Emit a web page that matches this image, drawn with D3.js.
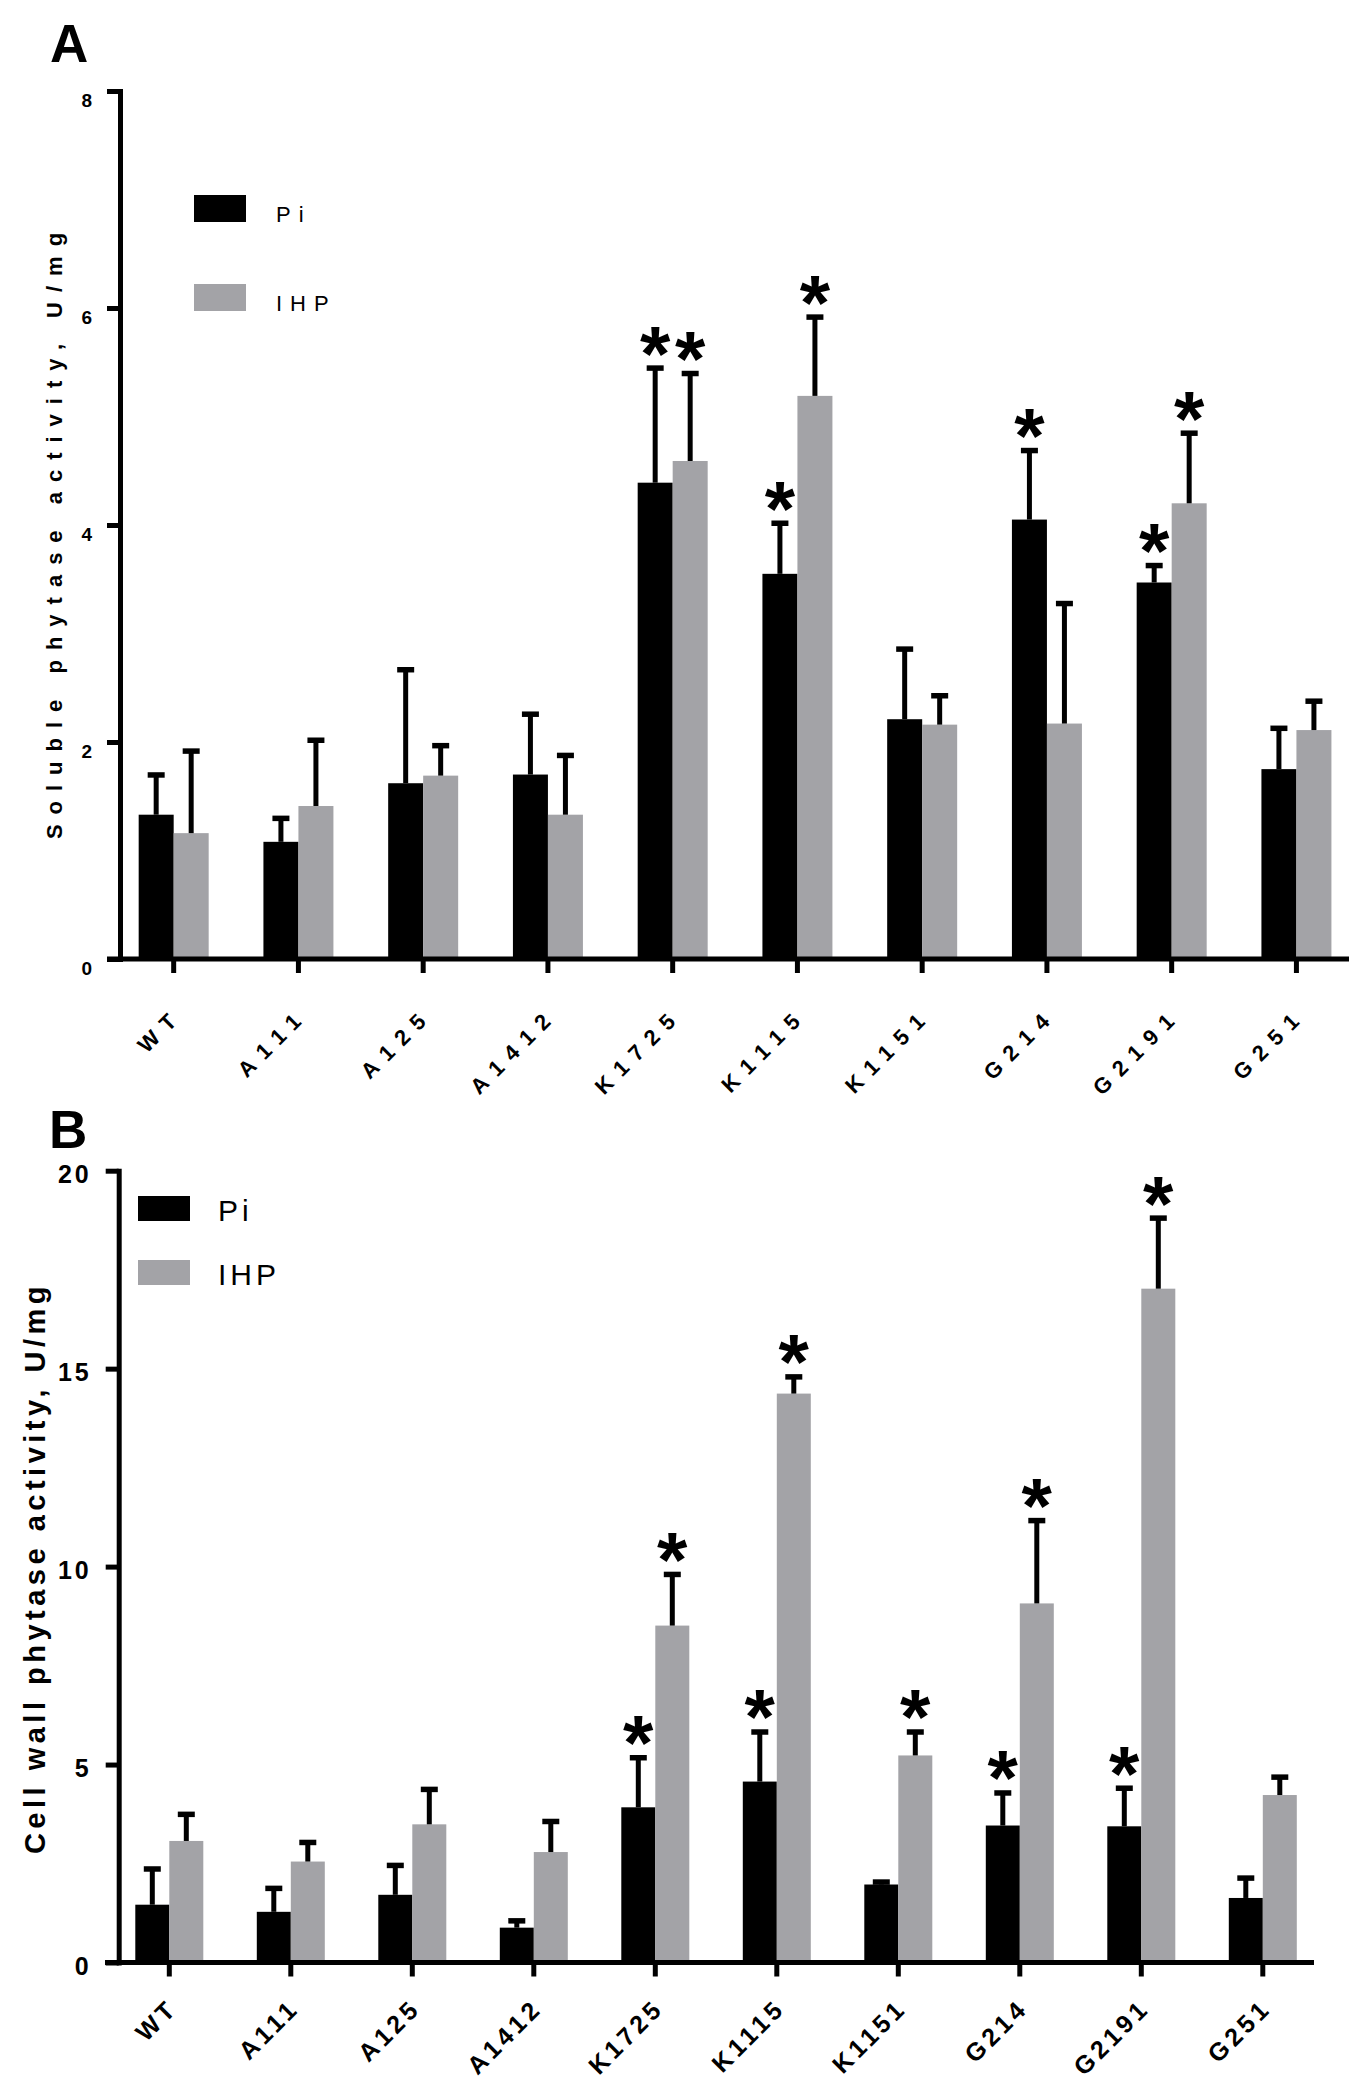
<!DOCTYPE html>
<html>
<head>
<meta charset="utf-8">
<script src="https://cdn.jsdelivr.net/npm/d3@7"></script>
<style>
body { margin: 0; background: #fff; }
svg { display: block; font-family: "Liberation Sans", Arial, sans-serif; }
</style>
</head>
<body>
<div id="chart-area"></div>
<script>
// lines along the x axis
const categories = ["WT", "A111", "A125", "A1412", "K1725", "K1115", "K1151", "G214", "G2191", "G251"];
const seriesNames = ["Pi", "IHP"];

// A: soluble phytase activity, U/mg (mean and SD)
const solublePi = [1.33, 1.08, 1.62, 1.70, 4.39, 3.55, 2.21, 4.05, 3.47, 1.75];
const solublePiSd = [0.38, 0.23, 1.06, 0.57, 1.07, 0.48, 0.66, 0.65, 0.17, 0.39];
const solubleIHP = [1.16, 1.41, 1.69, 1.33, 4.59, 5.19, 2.16, 2.17, 4.20, 2.11];
const solubleIHPSd = [0.77, 0.62, 0.29, 0.56, 0.82, 0.74, 0.28, 1.12, 0.66, 0.28];
const solublePiStars = ["K1725", "K1115", "G214", "G2191"];
const solubleIHPStars = ["K1725", "K1115", "G2191"];
const solubleTicks = [0, 2, 4, 6, 8];

// B: cell wall phytase activity, U/mg
const wallPi = [1.46, 1.28, 1.71, 0.88, 3.92, 4.57, 1.97, 3.46, 3.44, 1.63];
const wallPiSd = [0.94, 0.63, 0.78, 0.21, 1.29, 1.29, 0.10, 0.86, 1.00, 0.54];
const wallIHP = [3.07, 2.55, 3.49, 2.79, 8.51, 14.37, 5.23, 9.07, 17.02, 4.23];
const wallIHPSd = [0.71, 0.52, 0.92, 0.81, 1.33, 0.46, 0.63, 2.13, 1.82, 0.49];
const wallPiStars = ["K1725", "K1115", "G214", "G2191"];
const wallIHPStars = ["K1725", "K1115", "K1151", "G214", "G2191"];
const wallTicks = [0, 5, 10, 15, 20];

const colors = d3.scaleOrdinal().domain(seriesNames).range(["#000000", "#a3a3a7"]);

const svg = d3.select("#chart-area").append("svg")
	.attr("width", 1368)
	.attr("height", 2093);

svg.append("rect").attr("width", 1368).attr("height", 2093).attr("fill", "#fff");

const drawPanel = p => {
	const g = svg.append("g");

	const x = d3.scaleBand()
		.domain(categories)
		.range(p.xRange);
	const sub = d3.scaleBand()
		.domain(seriesNames)
		.range([-p.barWidth, p.barWidth]);
	const y = d3.scaleLinear()
		.domain([0, d3.max(p.ticks)])
		.range(p.yRange);

	const rows = categories.map((c, i) => seriesNames.map((s, j) => ({
		cat: c,
		series: s,
		value: j === 0 ? p.pi[i] : p.ihp[i],
		sd: j === 0 ? p.piSd[i] : p.ihpSd[i],
		star: (j === 0 ? p.piStars : p.ihpStars).includes(c)
	}))).flat();
	const cx = d => x(d.cat) + x.bandwidth() / 2 + sub(d.series) + sub.bandwidth() / 2;

	// bars
	g.selectAll("rect.bar")
		.data(rows)
		.enter().append("rect")
		.attr("class", "bar")
		.attr("x", d => x(d.cat) + x.bandwidth() / 2 + sub(d.series))
		.attr("width", sub.bandwidth())
		.attr("y", d => y(d.value))
		.attr("height", d => y(0) - y(d.value))
		.attr("fill", d => colors(d.series));

	// error bars (upper only)
	g.selectAll("line.err")
		.data(rows)
		.enter().append("line")
		.attr("class", "err")
		.attr("x1", cx).attr("x2", cx)
		.attr("y1", d => y(d.value))
		.attr("y2", d => y(d.value + d.sd))
		.attr("stroke", "#000")
		.attr("stroke-width", 5);
	g.selectAll("line.cap")
		.data(rows)
		.enter().append("line")
		.attr("class", "cap")
		.attr("x1", d => cx(d) - 8.5).attr("x2", d => cx(d) + 8.5)
		.attr("y1", d => y(d.value + d.sd) + 1.5)
		.attr("y2", d => y(d.value + d.sd) + 1.5)
		.attr("stroke", "#000")
		.attr("stroke-width", 5.5);

	g.selectAll("text.star")
		.data(rows.filter(d => d.star))
		.enter().append("text")
		.attr("class", "star")
		.attr("x", cx)
		.attr("y", d => y(d.value + d.sd) - 1.5 - 22 + 0.48 * p.starSize)
		.attr("text-anchor", "middle")
		.attr("font-size", p.starSize + "px")
		.attr("font-weight", "bold")
		.text("*");

	// y axis
	const yAxis = g.append("g")
		.attr("transform", `translate(${p.axisX},0)`)
		.call(d3.axisLeft(y).tickValues(p.ticks).tickSize(13).tickSizeOuter(0).tickPadding(p.tickPad));
	yAxis.select(".domain").attr("stroke-width", 5).attr("stroke-linecap", "square");
	yAxis.selectAll(".tick line").attr("stroke-width", 5);
	yAxis.selectAll(".tick text")
		.attr("dy", 0)
		.attr("y", p.tickLabelDy)
		.attr("font-size", p.tickFont + "px")
		.attr("font-weight", "bold")
		.attr("letter-spacing", p.tickSpacing + "px")
		.attr("fill", "#000")
		.attr("font-family", "Liberation Sans, Arial, sans-serif");

	// x axis
	const xAxis = g.append("g")
		.attr("transform", `translate(0,${y(0)})`)
		.call(d3.axisBottom(x).tickSize(14).tickSizeOuter(0));
	xAxis.select(".domain")
		.attr("d", `M${p.xLine[0]},0H${p.xLine[1]}`)
		.attr("stroke-width", 5);
	xAxis.selectAll(".tick line").attr("stroke-width", 5);
	xAxis.selectAll(".tick text")
		.attr("x", 0).attr("y", 0).attr("dy", 0)
		.attr("dx", p.xLabelSpacing)
		.attr("text-anchor", "end")
		.attr("transform", `translate(${p.xLabelOffset[0]},${p.xLabelOffset[1]}) rotate(-45)`)
		.attr("font-size", p.xLabelFont + "px")
		.attr("font-weight", "bold")
		.attr("letter-spacing", p.xLabelSpacing + "px")
		.attr("fill", "#000")
		.attr("font-family", "Liberation Sans, Arial, sans-serif");

	// y axis title
	g.append("text")
		.attr("transform", `translate(${p.titlePos[0]},${p.titlePos[1]}) rotate(-90)`)
		.attr("text-anchor", "middle")
		.attr("font-size", p.titleFont + "px")
		.attr("font-weight", "bold")
		.attr("letter-spacing", p.titleSpacing + "px")
		.text(p.title);

	// panel letter
	g.append("text")
		.attr("x", p.letterPos[0])
		.attr("y", p.letterPos[1])
		.attr("font-size", "53px")
		.attr("font-weight", "bold")
		.text(p.letter);

	// legend
	const legend = g.selectAll("g.legend")
		.data(seriesNames)
		.enter().append("g")
		.attr("class", "legend")
		.attr("transform", (d, i) => `translate(${p.legend.x},${p.legend.y + i * p.legend.gap})`);
	legend.append("rect")
		.attr("width", 52)
		.attr("height", p.legend.h)
		.attr("fill", d => colors(d));
	legend.append("text")
		.attr("x", p.legend.tx)
		.attr("y", p.legend.h)
		.attr("font-size", p.legend.font + "px")
		.attr("letter-spacing", p.legend.spacing + "px")
		.text(d => d);
};

drawPanel({
	letter: "A",
	letterPos: [50, 62],
	title: "Soluble phytase activity, U/mg",
	titlePos: [62, 531],
	titleFont: 22,
	titleSpacing: 10,
	pi: solublePi, piSd: solublePiSd, ihp: solubleIHP, ihpSd: solubleIHPSd,
	piStars: solublePiStars, ihpStars: solubleIHPStars,
	ticks: solubleTicks,
	xRange: [111.3, 1358.8],
	yRange: [959, 91],
	xLine: [107, 1349],
	axisX: 120,
	barWidth: 35,
	tickPad: 15,
	tickFont: 19,
	tickSpacing: 0,
	tickLabelDy: 15,
	xLabelFont: 22,
	xLabelSpacing: 9.5,
	xLabelOffset: [4, 64],
	starSize: 78,
	legend: { x: 194, y: 195, gap: 89, h: 27, tx: 82, font: 22, spacing: 8 }
});

drawPanel({
	letter: "B",
	letterPos: [49, 1148],
	title: "Cell wall phytase activity, U/mg",
	titlePos: [45, 1568],
	titleFont: 29,
	titleSpacing: 4.5,
	pi: wallPi, piSd: wallPiSd, ihp: wallIHP, ihpSd: wallIHPSd,
	piStars: wallPiStars, ihpStars: wallIHPStars,
	ticks: wallTicks,
	xRange: [108.55, 1323.55],
	yRange: [1962.5, 1170.7],
	xLine: [105, 1314],
	axisX: 118.7,
	barWidth: 34,
	tickPad: 14,
	tickFont: 25,
	tickSpacing: 3,
	tickLabelDy: 12,
	xLabelFont: 25,
	xLabelSpacing: 4,
	xLabelOffset: [7, 50],
	starSize: 78,
	legend: { x: 138, y: 1196, gap: 64, h: 25, tx: 80, font: 30, spacing: 4 }
});
</script>
</body>
</html>
